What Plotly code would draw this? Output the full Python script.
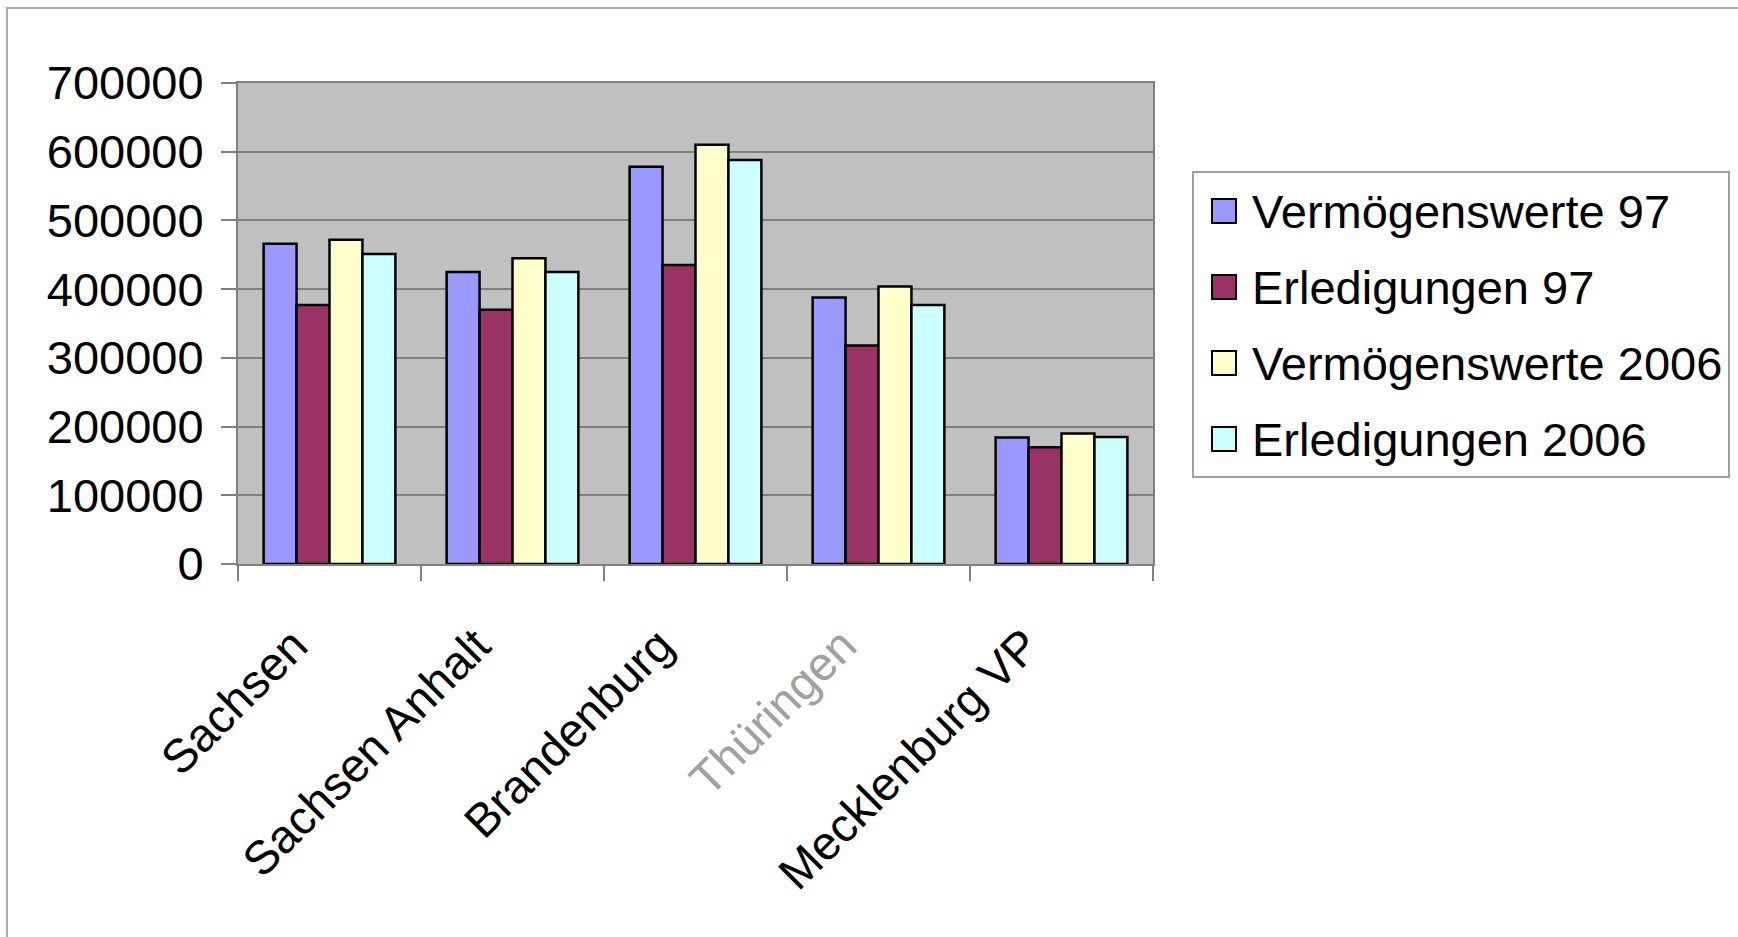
import plotly.graph_objects as go

# Bundesländer and their values
laender = ["Sachsen", "Sachsen Anhalt", "Brandenburg", "Thüringen", "Mecklenburg VP"]
laender_text = ["Sachsen", "Sachsen Anhalt", "Brandenburg",
                '<span style="color:#a0a0a0">Thüringen</span>', "Mecklenburg VP"]

series_names = ["Vermögenswerte 97", "Erledigungen 97", "Vermögenswerte 2006", "Erledigungen 2006"]
vermoegen_97 = [466000, 425000, 578000, 388000, 184000]
erledigungen_97 = [377000, 370000, 435000, 318000, 170000]
vermoegen_2006 = [472000, 445000, 610000, 404000, 190000]
erledigungen_2006 = [451000, 425000, 588000, 377000, 185000]
series_values = [vermoegen_97, erledigungen_97, vermoegen_2006, erledigungen_2006]
series_colors = ["#9999FF", "#993366", "#FFFFCC", "#CCFFFF"]

y_ticks = [0, 100000, 200000, 300000, 400000, 500000, 600000, 700000]

W, H = 1738, 937
L, R, T, B = 238, 1153, 83, 564  # plot area in pixels
FONT = "Arial, Liberation Sans, sans-serif"
FS = 47


def px_x(x):
    return (x - L) / (R - L)


def px_y(y):
    return (B - y) / (B - T)


fig = go.Figure()
for name, vals, col in zip(series_names, series_values, series_colors):
    fig.add_trace(go.Bar(
        x=laender, y=vals, name=name,
        marker=dict(color=col, line=dict(color="black", width=2.5)),
        showlegend=False,
    ))

shapes = []
annotations = []

# outer frame
shapes.append(dict(type="rect", xref="paper", yref="paper",
                   x0=px_x(7), x1=px_x(W + 10), y0=px_y(H + 10), y1=px_y(8),
                   line=dict(color="#a8a8a8", width=2), layer="below"))

# legend box
lx0, lx1, ly0, ly1 = 1193, 1729, 172, 477
shapes.append(dict(type="rect", xref="paper", yref="paper",
                   x0=px_x(lx0), x1=px_x(lx1), y0=px_y(ly1), y1=px_y(ly0),
                   line=dict(color="#a0a0a0", width=2), fillcolor="white"))
row_y = [211, 287, 363, 439]
for name, col, ry in zip(series_names, series_colors, row_y):
    shapes.append(dict(type="rect", xref="paper", yref="paper",
                       x0=px_x(1212), x1=px_x(1236), y0=px_y(ry + 12), y1=px_y(ry - 12),
                       line=dict(color="black", width=2), fillcolor=col))
    annotations.append(dict(text=name, xref="paper", yref="paper",
                            x=px_x(1250), y=px_y(ry), xanchor="left", yanchor="middle",
                            showarrow=False, font=dict(family=FONT, size=FS, color="black")))

fig.update_layout(
    width=W, height=H,
    margin=dict(l=L, r=W - R, t=T, b=H - B, pad=0),
    paper_bgcolor="white",
    plot_bgcolor="#C0C0C0",
    barmode="group",
    bargap=0.28,
    bargroupgap=0,
    font=dict(family=FONT, size=FS, color="black"),
    shapes=shapes,
    annotations=annotations,
    showlegend=False,
)

fig.update_xaxes(
    tickmode="array", tickvals=laender, ticktext=laender_text,
    tickangle=-45, tickson="boundaries",
    ticks="outside", ticklen=15, tickwidth=2, tickcolor="#808080",
    ticklabelstandoff=33, ticklabelshift=-36,
    showline=True, linecolor="#808080", linewidth=2, mirror=True,
    showgrid=False,
    tickfont=dict(family=FONT, size=FS, color="black"),
)
fig.update_yaxes(
    range=[0, 700000], tickvals=y_ticks, tickformat="d",
    ticks="outside", ticklen=15, tickwidth=2, tickcolor="#808080",
    ticklabelstandoff=8,
    showline=True, linecolor="#808080", linewidth=2, mirror=True,
    showgrid=True, gridcolor="#808080", gridwidth=2,
    zeroline=False,
    tickfont=dict(family=FONT, size=FS, color="black"),
)

fig.write_html("out.html")
